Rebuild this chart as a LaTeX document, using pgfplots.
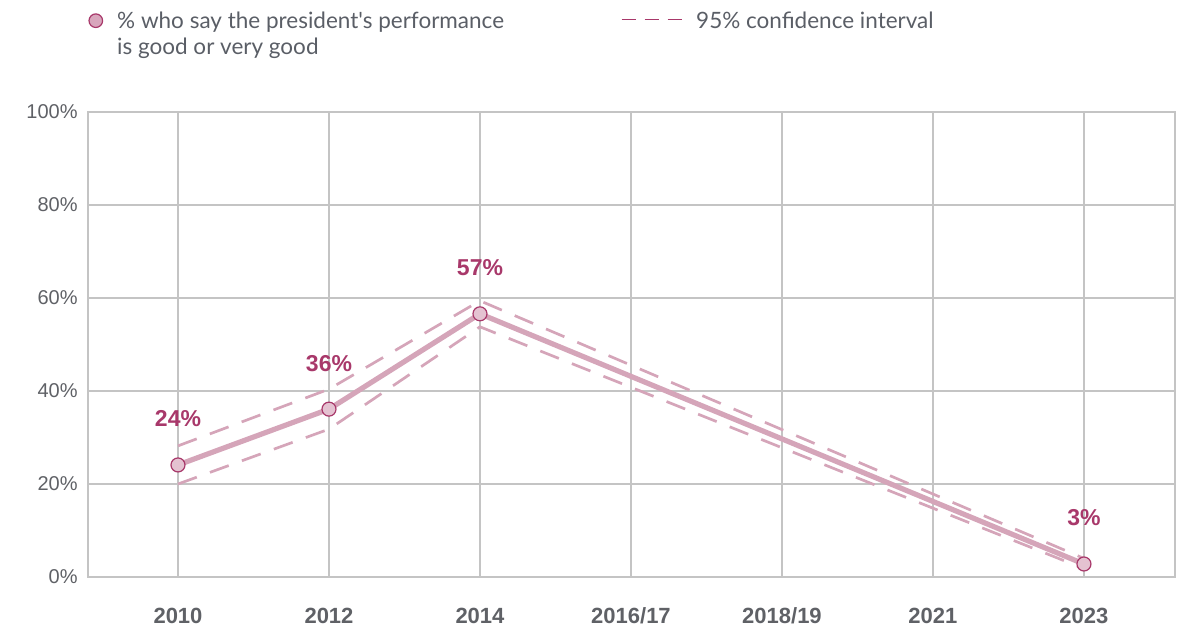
\documentclass[border=0pt]{standalone}
\usepackage{fontspec}
\usepackage{pgfplots}
\pgfplotsset{compat=1.18}
\setmainfont{Liberation Sans}
\newfontfamily\lato{Lato}
\definecolor{linepink}{HTML}{D5A5B9}
\definecolor{markfill}{HTML}{E4C2D1}
\definecolor{darkpink}{HTML}{A8386A}
\definecolor{gridgray}{HTML}{C4C4C4}
\definecolor{ticktext}{HTML}{5F6166}
\definecolor{legtext}{HTML}{5A5E66}
\begin{document}
\begin{tikzpicture}
\useasboundingbox (0,0) rectangle (593pt,314pt);
\begin{axis}[
  at={(44pt,25.5pt)}, anchor=south west,
  scale only axis, width=543.5pt, height=232.5pt,
  xmin=-0.596, xmax=6.603, ymin=0, ymax=100,
  xtick={0,1,2,3,4,5,6},
  xticklabels={2010,2012,2014,2016/17,2018/19,2021,2023},
  ytick={0,20,40,60,80,100},
  yticklabels={0\%,20\%,40\%,60\%,80\%,100\%},
  major tick length=0pt,
  grid=major,
  major grid style={gridgray, line width=0.6pt},
  axis line style={gridgray, line width=0.6pt},
  xticklabel style={font=\fontsize{11}{12}\selectfont\bfseries, text=ticktext, anchor=base, inner sep=0pt, yshift=-23pt},
  yticklabel style={font=\fontsize{10}{11}\selectfont, text=ticktext, anchor=east, inner sep=0pt, xshift=-5pt},
  legend columns=2,
  legend cell align=left,
  legend style={at={(axis description cs:0,1.217)}, anchor=north west, draw=none, fill=none, inner sep=0pt,
    font=\lato\fontsize{11.25}{13.2}\selectfont, text=legtext,
    nodes={align=left, anchor=north west, inner sep=0pt},
    /tikz/every even column/.append style={column sep=58.5pt},
    /tikz/every odd column/.append style={column sep=7pt}},
  clip=false,
]
% confidence interval (upper, lower)
\addplot[linepink, line width=1.35pt, dash pattern=on 10pt off 7pt, forget plot]
  coordinates {(0,28.2) (1,40.4) (2,59.4) (6,4.0)};
\addplot[linepink, line width=1.35pt, dash pattern=on 10pt off 7pt, forget plot]
  coordinates {(0,20.0) (1,31.8) (2,53.8) (6,1.8)};
% main series
\addplot[linepink, line width=2.6pt, mark=*, mark size=3.5pt,
  mark options={fill=markfill, draw=darkpink, line width=0.6pt},
  point meta=explicit symbolic,
  nodes near coords,
  every node near coord/.append style={font=\fontsize{11.5}{12}\selectfont\bfseries, text=darkpink, anchor=center, yshift=23pt},
  forget plot]
  coordinates {(0,24.1) [24\%] (1,36.1) [36\%] (2,56.6) [57\%] (6,2.8) [3\%]};
\addlegendimage{legend image code/.code={\draw[fill=markfill!80!darkpink, draw=darkpink, line width=0.6pt] (3pt,-4.6pt) circle (3.4pt);}}
\addlegendentry{\% who say the president's performance\\is good or very good}
\addlegendimage{legend image code/.code={\draw[darkpink, line width=0.6pt, dash pattern=on 7pt off 4.5pt] (0pt,-4.1pt) -- (30pt,-4.1pt);}}
\addlegendentry{95\% confidence interval}
\end{axis}
\end{tikzpicture}
\end{document}
